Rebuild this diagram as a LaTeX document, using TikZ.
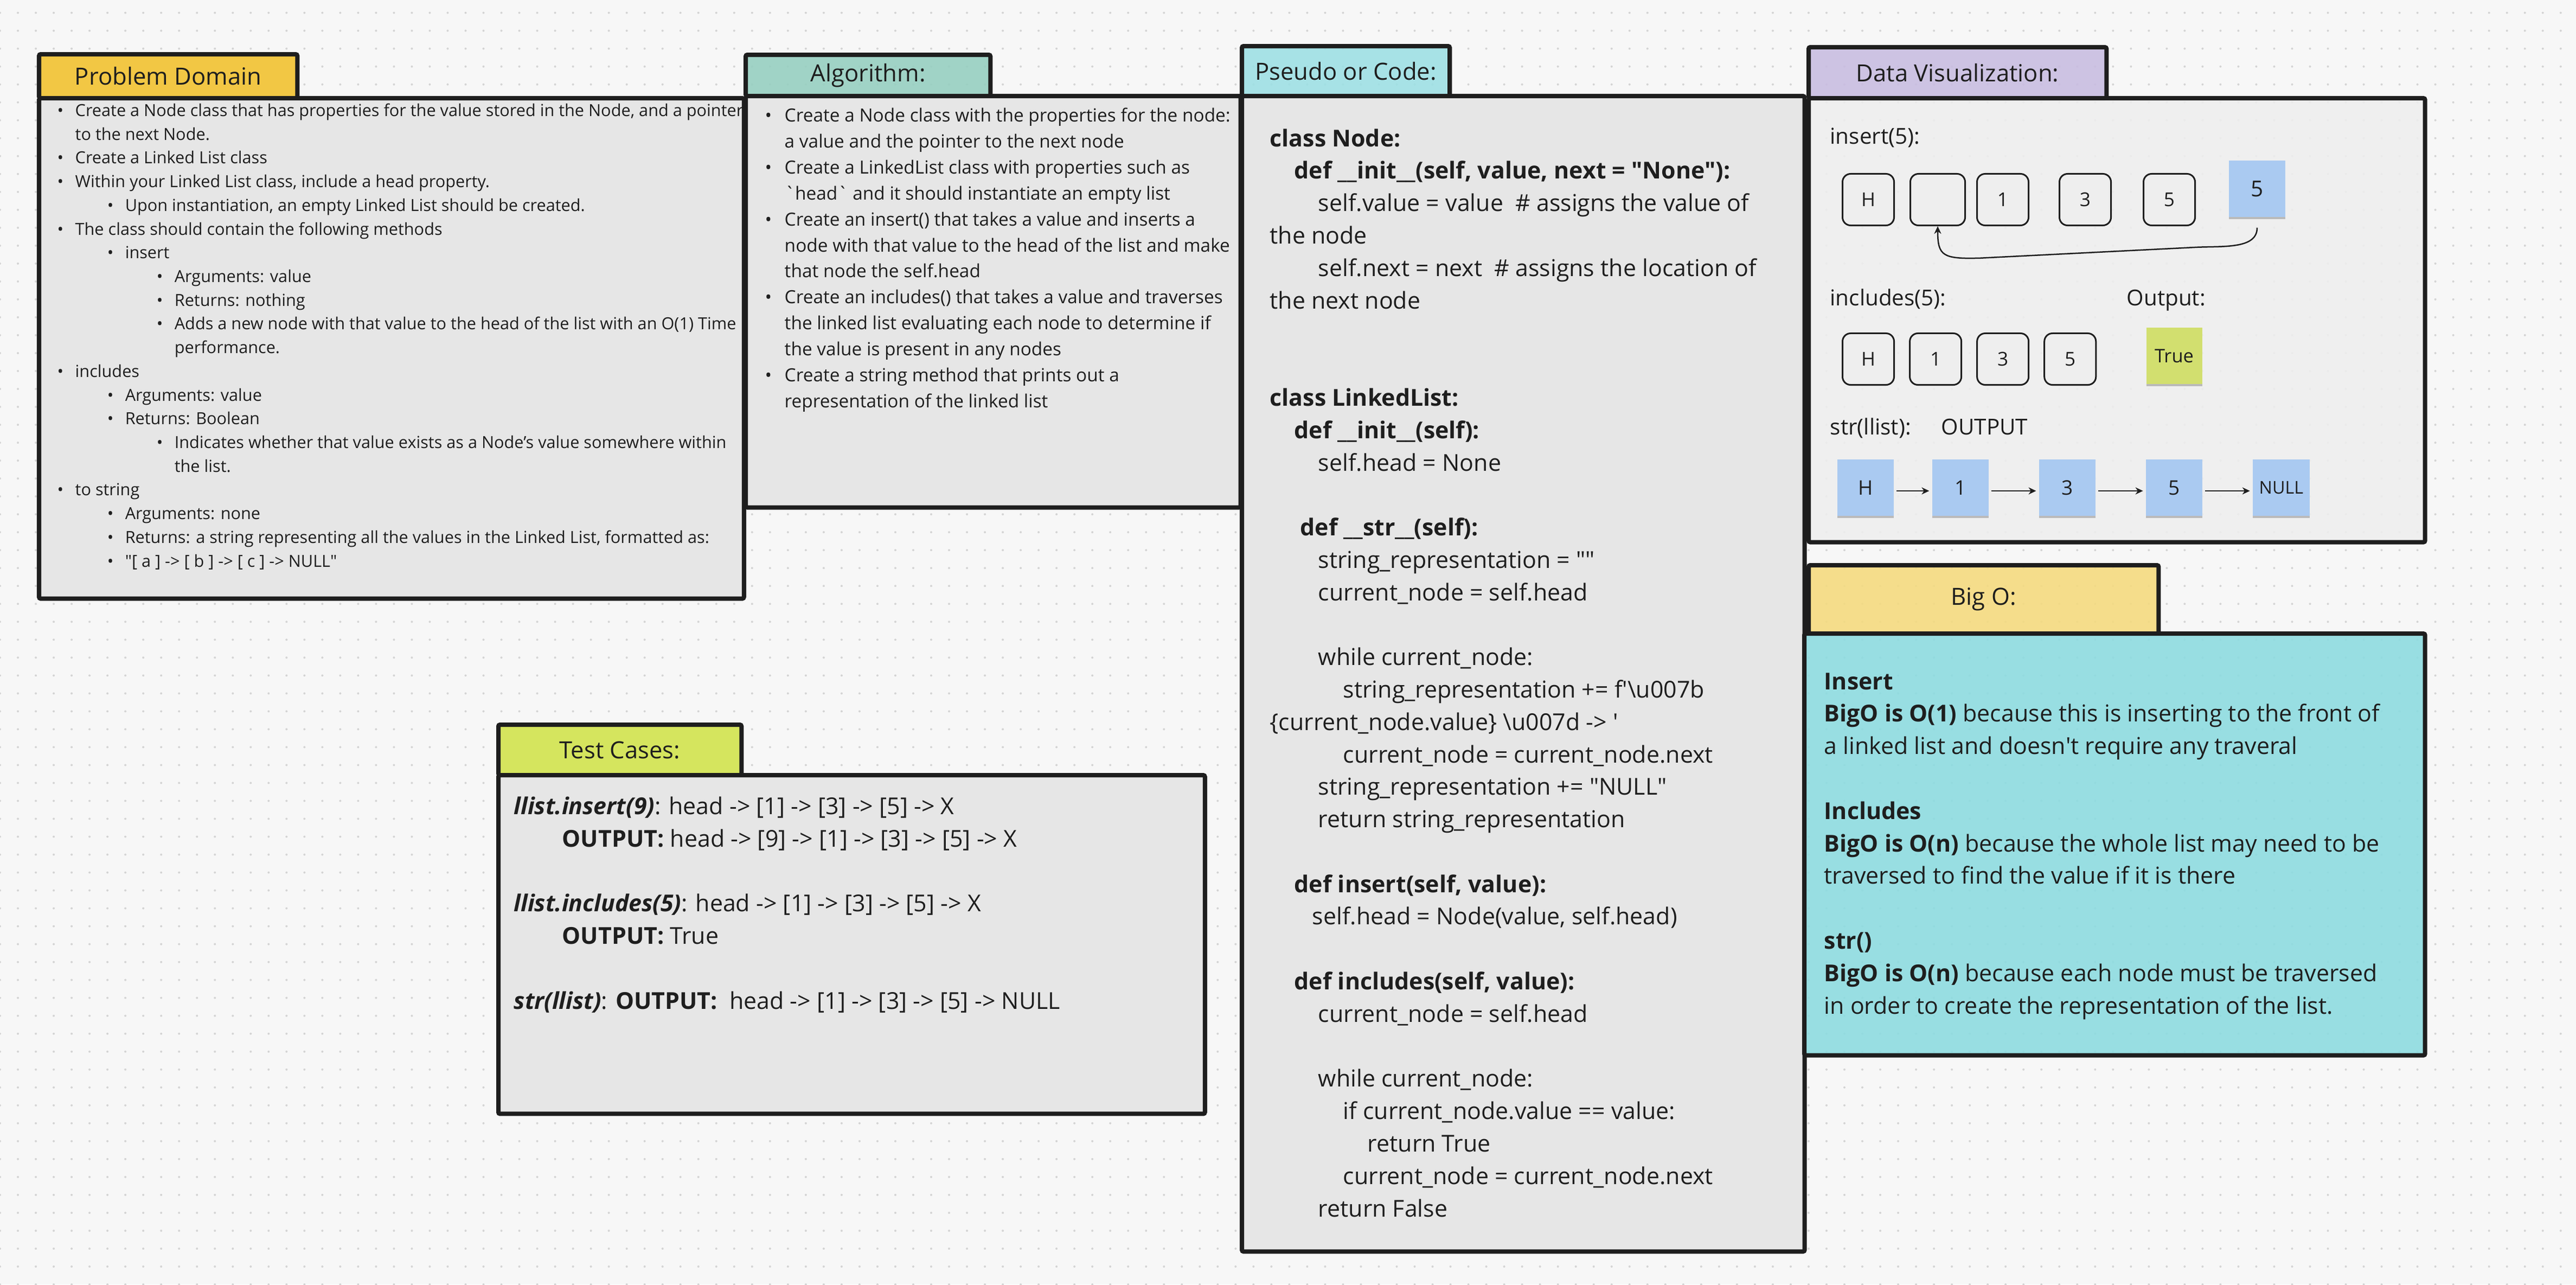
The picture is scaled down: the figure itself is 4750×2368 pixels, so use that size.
\documentclass[tikz,border=0pt]{standalone}
\usepackage{fontspec}
\setmainfont{Open Sans}
\usepackage{tikz}
\usetikzlibrary{positioning, arrows.meta, patterns.meta, shadows}

\definecolor{paper}{HTML}{F7F7F7}
\definecolor{dotgray}{HTML}{D4D4D4}
\definecolor{ink}{HTML}{1E1E1E}
\definecolor{cardgray}{HTML}{E6E6E6}
\definecolor{vizgray}{HTML}{EEEEEE}
\definecolor{pdyellow}{HTML}{F2C744}
\definecolor{algteal}{HTML}{95CFC0}
\definecolor{codecyan}{HTML}{9CE0E4}
\definecolor{vizlilac}{HTML}{C8BCE1}
\definecolor{bigoyellow}{HTML}{F5DA7D}
\definecolor{bigocyan}{HTML}{8BDBE0}
\definecolor{testlime}{HTML}{D5E55E}
\definecolor{stickyblue}{HTML}{AACAF1}
\definecolor{stickylime}{HTML}{D2DF6F}

% bullet helpers
\newlength{\bw}
\newcommand{\li}[2]{\hspace*{#1}\makebox[\bw][l]{\textbullet}#2}
\newcommand{\co}[2]{\hspace*{#1}\hspace*{\bw}#2}
\newcommand{\q}{\textquotesingle}
\newcommand{\qq}{\textquotedbl}
\newcommand{\hdrfont}{\fontsize{12.4}{15}\selectfont}
\newcommand{\codefont}{\fontsize{12.2}{17}\selectfont}
\newcommand{\vizfont}{\fontsize{11.5}{14}\selectfont}

\begin{document}
\begin{tikzpicture}[x=0.01cm, y=-0.01cm, >={Stealth[length=0.14cm, width=0.13cm]},
    card/.style={draw=ink, line width=0.08cm, rounded corners=0.03cm, outer sep=0pt, inner sep=0pt, anchor=north west},
    hdr/.style={card, font=\hdrfont, text=ink},
    bodybox/.style={card, fill=cardgray},
    glass/.style={fill opacity=0.88, text opacity=1},
    txt/.style={anchor=base west, align=left, inner sep=0pt, text=ink},
    cell/.style={draw=ink, line width=0.03cm, rounded corners=0.15cm, fill=vizgray, minimum size=0.95cm, inner sep=0pt, text=ink, font=\fontsize{10}{12}\selectfont},
    sticky/.style={fill=stickyblue, minimum width=1.04cm, minimum height=1.04cm, inner sep=0pt, text=ink, drop shadow={shadow xshift=0cm, shadow yshift=-0.04cm, opacity=0.22, fill=black}, font=\fontsize{10.5}{12}\selectfont},
    link/.style={->, draw=ink, line width=0.025cm}]

    % Board
    \useasboundingbox (0,0) rectangle (4750,2368);
    \fill[paper] (0,0) rectangle (4750,2368);
    \fill[pattern={Dots[radius=0.02cm, distance=0.33cm]}, pattern color=dotgray] (0,0) rectangle (4750,2368);

    % Problem Domain (text nodes are placed at the baseline of their last line)
    \node[hdr, fill=pdyellow, minimum width=4.76cm, minimum height=0.81cm] (pdHead) at (72,100) {Problem Domain};
    \node[bodybox, minimum width=12.99cm, minimum height=9.22cm] (pdBody) at (pdHead.south west) {};
    \setlength{\bw}{0.33cm}
    \node[txt, font=\fontsize{8.72}{12.43}\selectfont] (pdList) at (105,1045) {%
        \li{0cm}{Create a Node class that has properties for the value stored in the Node, and a pointer}\\
        \co{0cm}{to the next Node.}\\
        \li{0cm}{Create a Linked List class}\\
        \li{0cm}{Within your Linked List class, include a head property.}\\
        \li{0.92cm}{Upon instantiation, an empty Linked List should be created.}\\
        \li{0cm}{The class should contain the following methods}\\
        \li{0.92cm}{insert}\\
        \li{1.83cm}{Arguments: value}\\
        \li{1.83cm}{Returns: nothing}\\
        \li{1.83cm}{Adds a new node with that value to the head of the list with an O(1) Time}\\
        \co{1.83cm}{performance.}\\
        \li{0cm}{includes}\\
        \li{0.92cm}{Arguments: value}\\
        \li{0.92cm}{Returns: Boolean}\\
        \li{1.83cm}{Indicates whether that value exists as a Node’s value somewhere within}\\
        \co{1.83cm}{the list.}\\
        \li{0cm}{to string}\\
        \li{0.92cm}{Arguments: none}\\
        \li{0.92cm}{Returns: a string representing all the values in the Linked List, formatted as:}\\
        \li{0.92cm}{\qq[ a ] -> [ b ] -> [ c ] -> NULL\qq}};

    % Algorithm
    \node[hdr, fill=algteal, glass, minimum width=4.51cm, minimum height=0.76cm] (algHead) at (1375,101) {Algorithm:};
    \node[bodybox, minimum width=9.12cm, minimum height=7.58cm] (algBody) at (algHead.south west) {};
    \setlength{\bw}{0.36cm}
    \node[txt, font=\fontsize{9.5}{13.6}\selectfont] (algList) at (1410,751) {%
        \li{0cm}{Create a Node class with the properties for the node:}\\
        \co{0cm}{a value and the pointer to the next node}\\
        \li{0cm}{Create a LinkedList class with properties such as}\\
        \co{0cm}{\textasciigrave head\textasciigrave{} and it should instantiate an empty list}\\
        \li{0cm}{Create an insert() that takes a value and inserts a}\\
        \co{0cm}{node with that value to the head of the list and make}\\
        \co{0cm}{that node the self.head}\\
        \li{0cm}{Create an includes() that takes a value and traverses}\\
        \co{0cm}{the linked list evaluating each node to determine if}\\
        \co{0cm}{the value is present in any nodes}\\
        \li{0cm}{Create a string method that prints out a}\\
        \co{0cm}{representation of the linked list}};

    % Pseudo or Code
    \node[hdr, fill=codecyan, glass, minimum width=3.83cm, minimum height=0.92cm] (codeHead) at (2290,85) {Pseudo or Code:};
    \node[bodybox, minimum width=10.37cm, minimum height=21.29cm] (codeBody) at (codeHead.south west) {};
    \node[txt, font=\codefont] (code) at (2341,2243) {%
        \textbf{class Node:}\\
        \hspace*{0.45cm}\textbf{def \_\_init\_\_(self, value, next = \qq None\qq):}\\
        \hspace*{0.89cm}self.value = value~~\# assigns the value of\\
        the node\\
        \hspace*{0.89cm}self.next = next~~\# assigns the location of\\
        the next node\\
        ~\\
        ~\\
        \textbf{class LinkedList:}\\
        \hspace*{0.45cm}\textbf{def \_\_init\_\_(self):}\\
        \hspace*{0.89cm}self.head = None\\
        ~\\
        \hspace*{0.56cm}\textbf{def \_\_str\_\_(self):}\\
        \hspace*{0.89cm}string\_representation = \qq\qq\\
        \hspace*{0.89cm}current\_node = self.head\\
        ~\\
        \hspace*{0.89cm}while current\_node:\\
        \hspace*{1.35cm}string\_representation += f\q\textbackslash u007b\\
        \{current\_node.value\} \textbackslash u007d -> \q\\
        \hspace*{1.35cm}current\_node = current\_node.next\\
        \hspace*{0.89cm}string\_representation += \qq NULL\qq\\
        \hspace*{0.89cm}return string\_representation\\
        ~\\
        \hspace*{0.45cm}\textbf{def insert(self, value):}\\
        \hspace*{0.78cm}self.head = Node(value, self.head)\\
        ~\\
        \hspace*{0.45cm}\textbf{def includes(self, value):}\\
        \hspace*{0.89cm}current\_node = self.head\\
        ~\\
        \hspace*{0.89cm}while current\_node:\\
        \hspace*{1.35cm}if current\_node.value == value:\\
        \hspace*{1.80cm}return True\\
        \hspace*{1.35cm}current\_node = current\_node.next\\
        \hspace*{0.89cm}return False};

    % Data Visualization
    \node[hdr, fill=vizlilac, glass, minimum width=5.49cm, minimum height=0.94cm] (vizHead) at (3335,87) {Data Visualization:};
    \node[bodybox, fill=vizgray, glass, minimum width=11.36cm, minimum height=8.18cm] (vizBody) at (vizHead.south west) {};

    % insert(5)
    \node[txt, font=\vizfont] (insLbl) at (3374,265) {insert(5):};
    \node[cell] (i0) at (3445,368) {H};
    \node[cell, minimum width=1.01cm] (i1) at (3573,368) {};
    \node[cell] (i2) at (3693,368) {1};
    \node[cell] (i3) at (3845,368) {3};
    \node[cell] (i4) at (4000,368) {5};
    \node[sticky, font=\fontsize{11.5}{13}\selectfont] (iNew) at (4162,348) {5};
    \draw[link, shorten <=0.19cm] (iNew.south) .. controls +(0,58) and +(50,-2) .. ++(-110,55)
        -- ++(-400,20) .. controls +(-70,2) and +(0,55) .. (i1.south);

    % includes(5)
    \node[txt, font=\vizfont] (incLbl) at (3374,563) {includes(5):};
    \node[txt, font=\vizfont] (outLbl) at (3921,563) {Output:};
    \begin{scope}[on grid, node distance=1.24cm]
        \node[cell] (c0) at (3445,662) {H};
        \node[cell, right=of c0] (c1) {1};
        \node[cell, right=of c1] (c2) {3};
        \node[cell, right=of c2] (c3) {5};
    \end{scope}
    \node[sticky, fill=stickylime, minimum width=1.03cm, font=\fontsize{9.8}{12}\selectfont] (found) at (4009,656) {True};

    % str(llist)
    \node[txt, font=\vizfont] (strLbl) at (3374,801) {str(llist):};
    \node[txt, font=\vizfont] (strOut) at (3579,801) {OUTPUT};
    \begin{scope}[on grid, node distance=1.97cm]
        \node[sticky] (s0) at (3440,899) {H};
        \node[sticky, right=1.75cm of s0] (s1) {1};
        \node[sticky, right=of s1] (s2) {3};
        \node[sticky, right=of s2] (s3) {5};
        \node[sticky, right=of s3, font=\fontsize{9.2}{11}\selectfont] (s4) {NULL};
    \end{scope}
    \foreach \a/\b in {s0/s1, s1/s2, s2/s3, s3/s4}
        \draw[link, shorten <=0.04cm, shorten >=0.05cm] ([yshift=-0.06cm]\a.east) -- ([yshift=-0.06cm]\b.west);

    % Big O
    \node[hdr, fill=bigoyellow, glass, minimum width=6.45cm, minimum height=1.26cm] (boHead) at (3335,1042) {Big O:};
    \node[bodybox, fill=bigocyan, glass, minimum width=11.44cm, minimum height=7.77cm] (boBody) at ([xshift=-0.08cm]boHead.south west) {};
    \node[txt, font=\codefont] (boText) at (3363,1869) {%
        \textbf{Insert}\\
        \textbf{BigO is O(1)} because this is inserting to the front of\\
        a linked list and doesn\q t require any traveral\\
        ~\\
        \textbf{Includes}\\
        \textbf{BigO is O(n)} because the whole list may need to be\\
        traversed to find the value if it is there\\
        ~\\
        \textbf{str()}\\
        \textbf{BigO is O(n)} because each node must be traversed\\
        in order to create the representation of the list.};

    % Test Cases
    \node[hdr, fill=testlime, minimum width=4.48cm, minimum height=0.93cm] (testHead) at (919,1336) {Test Cases:};
    \node[bodybox, minimum width=13.02cm, minimum height=6.24cm] (testBody) at (testHead.south west) {};
    \node[txt, font=\codefont] (tests) at (947,1860) {%
        \textbf{\textit{llist.insert(9)}}: head -> [1] -> [3] -> [5] -> X\\
        \hspace*{0.89cm}\textbf{OUTPUT:} head -> [9] -> [1] -> [3] -> [5] -> X\\
        ~\\
        \textbf{\textit{llist.includes(5)}}: head -> [1] -> [3] -> [5] -> X\\
        \hspace*{0.89cm}\textbf{OUTPUT:} True\\
        ~\\
        \textbf{\textit{str(llist)}}: \textbf{OUTPUT:}~ head -> [1] -> [3] -> [5] -> NULL};

\end{tikzpicture}
\end{document}
